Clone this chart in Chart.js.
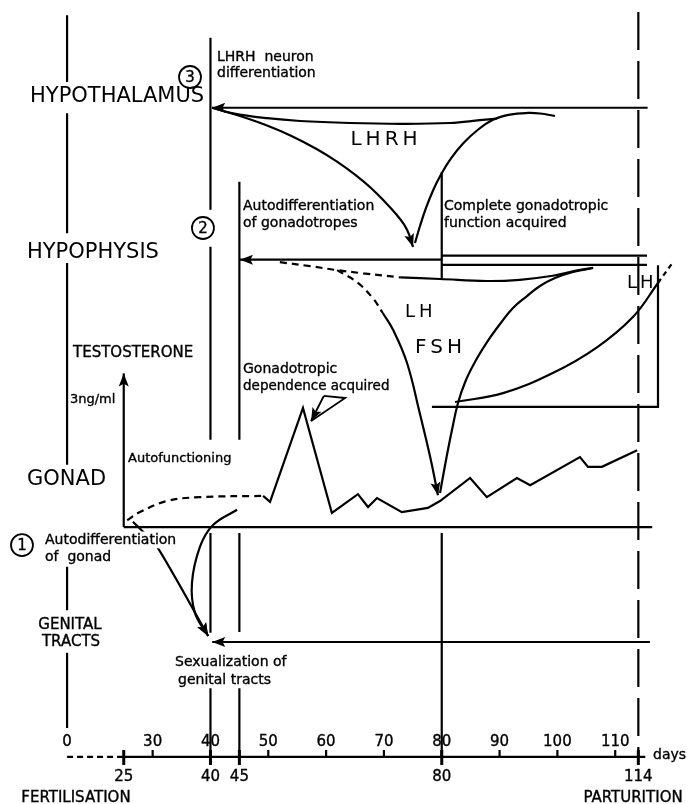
<!DOCTYPE html>
<html><head><meta charset="utf-8">
<script src="https://cdn.jsdelivr.net/npm/chart.js@4"></script>
<style>html,body{margin:0;padding:0;background:#fff}canvas{display:block}</style>
</head><body>
<canvas id="c" width="695" height="804"></canvas>
<script>
// ================= DATA =================
// Day axis (days of gestation). Day 0 is drawn on a broken axis at DAY_ZERO_POS.
const DAY_ZERO_POS = 15.2;
const upperTicks = [30, 40, 50, 60, 70, 80, 90, 100, 110];
const upperTickLabels = ['30', '40', '50', '60', '70', '80', '90', '100', '110'];
const lowerTicks = [25, 40, 45, 80, 114];
const lowerTickLabels = ['25', '40', '45', '80', '114'];

// Schematic levels (arbitrary units, 0 = bottom, 100 = top)
const AXIS_LEVEL = 5.85;
const HYPOTHALAMUS_LEVEL = 86.6;
const HYPOPHYSIS_LEVEL = 67.7;
const HYPOPHYSIS_DOUBLE = [68.2, 67.05];
const GENITAL_LEVEL = 20.15;

// Plasma testosterone (ng/ml) by day
const testoEarlyDays = [25.6, 27.8, 32.5, 38.2, 49.1];
const testoEarly     = [0.16, 0.35, 0.61, 0.70, 0.73];
const testoDays = [49.1, 50.3, 56.0, 61.0, 65.5, 67.25, 68.8, 73.1, 77.6, 79.7, 84.9, 87.8, 93.0, 95.3, 103.9, 105.3, 107.7, 113.8];
const testo     = [0.73, 0.59, 2.79, 0.33, 0.77, 0.47, 0.68, 0.35, 0.45, 0.61, 1.15, 0.70, 1.15, 0.98, 1.64, 1.41, 1.41, 1.80];

// LHRH schematic curves [day, level]
const lhrhUpper = [[40.3,86.6],[43.9,85.9],[49.8,85.3],[55.5,84.95],[64.1,84.7],[72.8,84.6],[81.4,84.7],[86.6,85.05],[89.56,85.26]];
const lhrhFall  = [[40.3,86.6],[45.11,85.57],[49.78,84.39],[54.1,83.06],[58.43,81.44],[61.88,79.9],[65.0,78.28],[67.76,76.62],[70.19,74.88],[72.09,73.38],[73.47,72.09],[74.34,70.85],[75.03,69.28]];
const lhrhRise  = [[75.37,69.78],[76.24,71.89],[77.28,74.13],[78.49,76.31],[79.87,78.3],[81.6,80.29],[83.68,82.15],[86.1,83.77],[88.86,85.1],[91.8,85.75],[94.92,85.95],[96.99,85.88],[99.59,85.57]];

// LH / FSH schematic curves [day, level]
const gonadotropinBaseDashed = [[52.0,67.4],[57.2,66.9],[61.9,66.4],[66.4,66.0],[72.8,65.5]];
const gonadotropinBase = [[72.8,65.5],[79.7,65.3],[87.8,65.05],[93.5,65.2],[99.2,65.7],[103.05,66.3],[106.2,66.7]];
const lhFshFallDashed = [[61.9,66.4],[65.35,64.9],[68.1,62.9],[69.8,61.07]];
const lhFshFall = [[69.8,61.07],[71.6,58.96],[74.0,54.85],[76.2,48.6],[78.0,43.16],[79.35,38.4]];
const lhFshRise = [[79.7,38.68],[80.74,42.79],[81.77,46.52],[82.81,49.88],[84.19,52.74],[85.93,55.22],[87.83,57.46],[90.08,59.7],[92.32,61.69],[94.75,63.18],[96.99,64.43],[99.59,65.42],[102.7,66.17],[106.16,66.67]];
const lhLate = [[82.3,50.0],[90.6,51.1],[99.2,53.6],[106.85,56.8],[113.1,60.6],[117.4,64.8]];
const lhLateDashed = [[117.4,64.8],[119.8,67.2]];
const lhFrame = [[78.3,49.4],[117.4,49.4],[117.4,67.0]];

// Gonad -> genital tracts arrows [day, level]
const gonadToTractsArc  = [[44.6,36.6],[40.44,34.7],[38.19,32.0],[36.8,27.5],[37.3,23.8],[39.6,20.9]];
const gonadToTractsLine = [[26.6,35.1],[30.75,32.0],[39.6,20.9]];
const pointerTail = [[59.6,50.75],[63.3,50.5],[57.4,47.64]];
const pointerShaft = [[59.6,50.75],[57.4,47.64]];

// Vertical time markers (null = gap)
const zeroLine = [[DAY_ZERO_POS,98.1],[DAY_ZERO_POS,89.8],null,[DAY_ZERO_POS,85.9],[DAY_ZERO_POS,71.0],null,[DAY_ZERO_POS,67.3],[DAY_ZERO_POS,42.2],null,[DAY_ZERO_POS,29.5],[DAY_ZERO_POS,24.1],null,[DAY_ZERO_POS,18.8],[DAY_ZERO_POS,9.45]];
const day40Line = [[40,95.3],[40,73.9],null,[40,69.3],[40,45.3],null,[40,33.7],[40,21.3],null,[40,14.4],[40,AXIS_LEVEL]];
const day45Line = [[45,77.4],[45,45.3],null,[45,33.7],[45,21.4],null,[45,14.4],[45,AXIS_LEVEL]];
const day80Line = [[80,78.6],[80,65.2],null,[80,33.7],[80,AXIS_LEVEL]];
const day114Line = [[114,98.5],[114,AXIS_LEVEL]];

// ================= CHART =================
function P(arr){ return arr.map(p => p ? {x:p[0], y:p[1]} : {x:null, y:null}); }
function zip(xs, ys){ return xs.map((x,i)=>[x, ys[i]]); }
const LW = 2.2;
function L(data, o){ return Object.assign({data:P(data), showLine:true, borderColor:'#000', borderWidth:LW,
  pointRadius:0, pointHoverRadius:0, tension:0, fill:false, spanGaps:false, yAxisID:'y', borderCapStyle:'butt'}, o||{}); }
function S(o){ return Object.assign({tension:0.4}, o||{}); }

const datasets = [
  // axis
  L([[DAY_ZERO_POS,AXIS_LEVEL],[25,AXIS_LEVEL]], {borderDash:[6,4]}),
  L([[25,AXIS_LEVEL],[115.2,AXIS_LEVEL]]),
  // verticals
  L(zeroLine), L(day40Line), L(day45Line), L(day80Line),
  L(day114Line, {borderDash:[38,11]}),
  // horizontal levels
  L([[115.6,HYPOTHALAMUS_LEVEL],[40.3,HYPOTHALAMUS_LEVEL]], {arrow:true}),
  L([[80,HYPOPHYSIS_LEVEL],[45.1,HYPOPHYSIS_LEVEL]], {arrow:true}),
  L([[80,HYPOPHYSIS_DOUBLE[0]],[115.5,HYPOPHYSIS_DOUBLE[0]]]),
  L([[80,HYPOPHYSIS_DOUBLE[1]],[115.5,HYPOPHYSIS_DOUBLE[1]]]),
  L([[116.0,GENITAL_LEVEL],[40.3,GENITAL_LEVEL]], {arrow:true}),
  // testosterone axes
  L([[25,0],[116.4,0]], {yAxisID:'yT'}),
  L([[25,0],[25,3.6]], {yAxisID:'yT', arrow:true}),
  // testosterone curve
  L(zip(testoEarlyDays, testoEarly), S({yAxisID:'yT', borderDash:[7,5]})),
  L(zip(testoDays, testo), {yAxisID:'yT'}),
  // LHRH
  L(lhrhUpper, S()),
  L(lhrhFall, S({arrow:true})),
  L(lhrhRise, S()),
  // LH / FSH
  L(gonadotropinBaseDashed, S({borderDash:[7,5]})),
  L(gonadotropinBase, S()),
  L(lhFshFallDashed, S({borderDash:[7,5]})),
  L(lhFshFall, S({arrow:true})),
  L(lhFshRise, S()),
  L(lhLate, S()),
  L(lhLateDashed, {borderDash:[5,4]}),
  L(lhFrame),
  // gonad -> genital tracts
  L(gonadToTractsArc, S({arrow:true})),
  L(gonadToTractsLine, {tension:0.2, arrow:true}),
  L(pointerTail, {borderWidth:1.8}),
  L(pointerShaft, {borderWidth:1.8, arrow:true})
];

const FONT = '"DejaVu Sans", "Liberation Sans", sans-serif';
const textLabels = [
  {t:'HYPOTHALAMUS', x:8.79, y:87.94, s:21},
  {t:'HYPOPHYSIS', x:8.27, y:68.53, s:21},
  {t:'GONAD', x:8.27, y:40.3, s:21},
  {t:'GENITAL', x:15.7, y:22.26, s:15, a:'center'},
  {t:'TRACTS', x:15.88, y:20.15, s:15, a:'center'},
  {t:'TESTOSTERONE', x:16.23, y:56.1, s:15},
  {t:'3ng/ml', x:15.7, y:50.25, s:13},
  {t:'Autofunctioning', x:25.74, y:42.9, s:13},
  {t:'Autodifferentiation', x:11.38, y:32.84, s:14, bg:true},
  {t:'of  gonad', x:11.38, y:30.72, s:14},
  {t:'LHRH  neuron', x:41.13, y:92.91, s:14},
  {t:'differentiation', x:41.13, y:90.92, s:14},
  {t:'Autodifferentiation', x:45.63, y:74.38, s:14},
  {t:'of gonadotropes', x:45.63, y:72.26, s:14},
  {t:'Complete gonadotropic', x:80.39, y:74.38, s:14},
  {t:'function acquired', x:80.39, y:72.26, s:14},
  {t:'LHRH', x:70.36, y:82.59, s:20, a:'center', sp:4},
  {t:'LH', x:73.64, y:61.19, s:18, sp:4},
  {t:'FSH', x:75.38, y:56.72, s:20, sp:4},
  {t:'LH', x:112.04, y:64.8, s:18, sp:3},
  {t:'Gonadotropic', x:45.63, y:54.1, s:14},
  {t:'dependence acquired', x:45.63, y:51.87, s:13.5},
  {t:'Sexualization of', x:33.87, y:17.66, s:14},
  {t:'genital tracts', x:34.39, y:15.42, s:14},
  {t:'FERTILISATION', x:16.74, y:0.75, s:15, a:'center'},
  {t:'PARTURITION', x:113.08, y:0.75, s:15, a:'center'},
  {t:'days', x:116.54, y:6.1, s:14}
];
const circledNumbers = [
  {t:'1', x:7.4, y:32.2},
  {t:'2', x:38.7, y:71.64},
  {t:'3', x:36.46, y:90.42}
];
const UPPER_LABEL_LEVEL = 7.71, LOWER_LABEL_LEVEL = 3.36;

function drawText(ctx, s, x, y, size, align, spacing, bg){
  ctx.save();
  ctx.font = size + 'px ' + FONT;
  ctx.textAlign = align || 'left';
  ctx.textBaseline = 'middle';
  if ('letterSpacing' in ctx) ctx.letterSpacing = (spacing || 0) + 'px';
  if (bg){
    const w = ctx.measureText(s).width;
    const x0 = align === 'center' ? x - w/2 : x;
    ctx.fillStyle = '#fff';
    ctx.fillRect(x0 - 1, y - size*0.6, w + 2, size*1.2);
  }
  ctx.fillStyle = '#000';
  ctx.fillText(s, x, y);
  if (size <= 16){ ctx.strokeStyle = '#000'; ctx.lineWidth = 0.35; ctx.strokeText(s, x, y); }
  ctx.restore();
}
function arrowHead(ctx, x, y, ang){
  const len = 13, hw = 5;
  ctx.save();
  ctx.translate(x, y); ctx.rotate(ang);
  ctx.beginPath();
  ctx.moveTo(0, 0); ctx.lineTo(-len, -hw); ctx.lineTo(-len*0.8, 0); ctx.lineTo(-len, hw); ctx.closePath();
  ctx.fillStyle = '#000'; ctx.fill();
  ctx.restore();
}

const bgPlugin = {id:'bg', beforeDraw(chart){ const c = chart.ctx; c.save(); c.fillStyle = '#fff'; c.fillRect(0,0,chart.width,chart.height); c.restore(); }};
const annotPlugin = {
  id:'annot',
  afterDatasetsDraw(chart){
    const ctx = chart.ctx, xs = chart.scales.x, ys = chart.scales.y;
    // arrowheads
    chart.data.datasets.forEach((ds, i) => {
      if (!ds.arrow) return;
      const pts = chart.getDatasetMeta(i).data;
      const last = pts[pts.length-1];
      let px, py;
      if (last.cp1x !== undefined && (Math.abs(last.cp1x-last.x) + Math.abs(last.cp1y-last.y)) > 0.5 && ds.tension > 0){ px = last.cp1x; py = last.cp1y; }
      else { px = pts[pts.length-2].x; py = pts[pts.length-2].y; }
      arrowHead(ctx, last.x, last.y, Math.atan2(last.y - py, last.x - px));
    });
    // axis ticks
    const ay = ys.getPixelForValue(AXIS_LEVEL);
    ctx.save(); ctx.strokeStyle = '#000';
    upperTicks.forEach(d => { const px = xs.getPixelForValue(d); ctx.lineWidth = 2.2; ctx.beginPath(); ctx.moveTo(px, ay); ctx.lineTo(px, ay-7); ctx.stroke(); });
    lowerTicks.forEach(d => { const px = xs.getPixelForValue(d); ctx.lineWidth = 3; ctx.beginPath(); ctx.moveTo(px, ay-7); ctx.lineTo(px, ay+8); ctx.stroke(); });
    ctx.restore();
    upperTicks.forEach((d, i) => drawText(ctx, upperTickLabels[i], xs.getPixelForValue(d), ys.getPixelForValue(UPPER_LABEL_LEVEL), 15, 'center'));
    lowerTicks.forEach((d, i) => drawText(ctx, lowerTickLabels[i], xs.getPixelForValue(d), ys.getPixelForValue(LOWER_LABEL_LEVEL), 15, 'center'));
    drawText(ctx, '0', xs.getPixelForValue(DAY_ZERO_POS), ys.getPixelForValue(UPPER_LABEL_LEVEL), 15, 'center');
    // labels
    textLabels.forEach(l => drawText(ctx, l.t, xs.getPixelForValue(l.x), ys.getPixelForValue(l.y), l.s, l.a, l.sp, l.bg));
    // circled numbers
    circledNumbers.forEach(c => {
      const cx = xs.getPixelForValue(c.x), cy = ys.getPixelForValue(c.y);
      ctx.save(); ctx.beginPath(); ctx.arc(cx, cy, 11, 0, Math.PI*2); ctx.fillStyle = '#fff'; ctx.fill();
      ctx.lineWidth = 1.8; ctx.strokeStyle = '#000'; ctx.stroke(); ctx.restore();
      drawText(ctx, c.t, cx, cy + 1, 15, 'center');
    });
  }
};

new Chart(document.getElementById('c'), {
  type: 'scatter',
  data: {datasets},
  options: {
    responsive: false, animation: false, devicePixelRatio: 1,
    events: [],
    layout: {padding: 0},
    plugins: {legend: {display: false}, tooltip: {enabled: false}},
    scales: {
      x: {type: 'linear', min: 3.6, max: 123.8, display: false},
      y: {type: 'linear', min: 0, max: 100, display: false},
      yT: {type: 'linear', min: -6.49, max: 12.35, display: false}
    }
  },
  plugins: [bgPlugin, annotPlugin]
});
</script>
</body></html>
